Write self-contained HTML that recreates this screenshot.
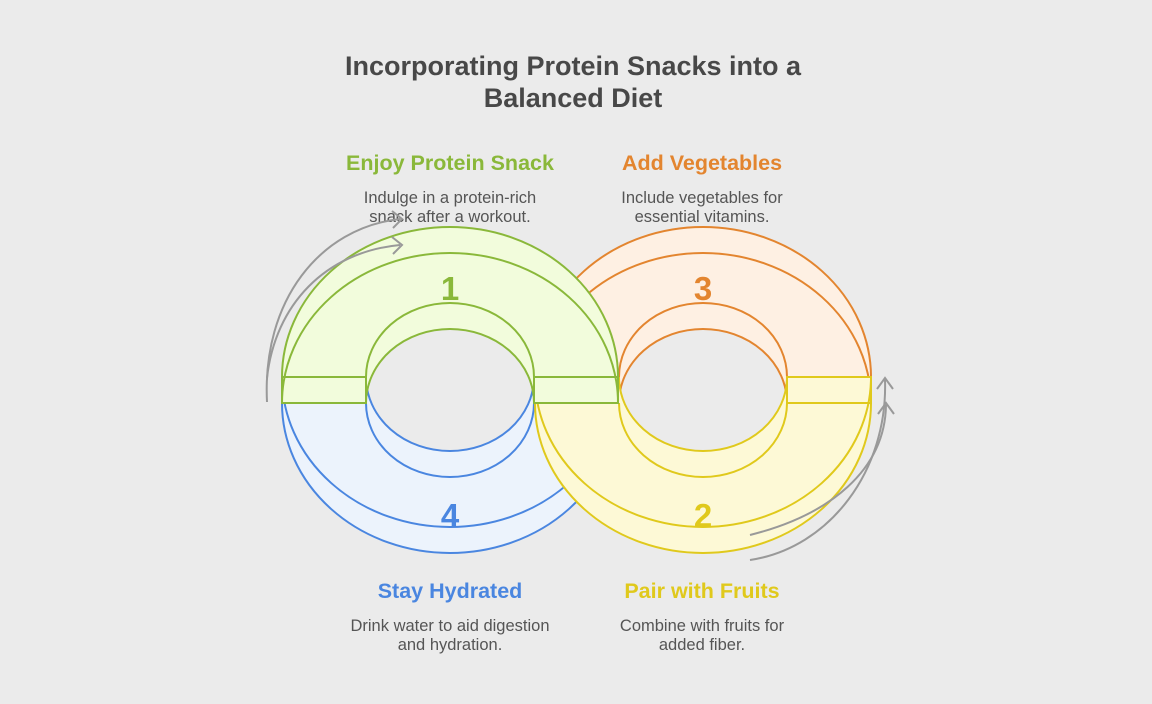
<!DOCTYPE html>
<html><head><meta charset="utf-8"><style>
html,body{margin:0;padding:0;background:#ebebeb;}
svg{display:block;font-family:"Liberation Sans",sans-serif;}
</style></head><body>
<svg width="1152" height="704" viewBox="0 0 1152 704" xmlns="http://www.w3.org/2000/svg">
<rect width="1152" height="704" fill="#ebebeb"/>
<g font-weight="bold" fill="#484848" font-size="27" text-anchor="middle">
<text x="573" y="75">Incorporating Protein Snacks into a</text>
<text x="573" y="107">Balanced Diet</text>
</g>
<g font-weight="bold" font-size="21.5" text-anchor="middle">
<text x="450" y="170" fill="#8ab83a">Enjoy Protein Snack</text>
<text x="702" y="170" fill="#e3852f">Add Vegetables</text>
<text x="450" y="598" fill="#4a86e0">Stay Hydrated</text>
<text x="702" y="598" fill="#e0c91c">Pair with Fruits</text>
</g>
<g font-size="16.5" fill="#555" text-anchor="middle">
<text x="450" y="203">Indulge in a protein-rich</text>
<text x="450" y="222">snack after a workout.</text>
<text x="702" y="203">Include vegetables for</text>
<text x="702" y="222">essential vitamins.</text>
<text x="450" y="631">Drink water to aid digestion</text>
<text x="450" y="650">and hydration.</text>
<text x="702" y="631">Combine with fruits for</text>
<text x="702" y="650">added fiber.</text>
</g>
<g fill="none" stroke-width="2">
<path d="M535,377 A168,150 0 0 1 871,377 L871,403 L787,403 A84,74 0 0 0 619,403 L535,403 Z" fill="#fef0e3" stroke="none"/>
<g stroke="#e3852f">
<path d="M535,377 A168,150 0 0 1 871,377"/><path d="M535,403 A168,150 0 0 1 871,403"/>
<path d="M619,377 A84,74 0 0 1 787,377"/><path d="M619,403 A84,74 0 0 1 787,403"/>
</g>
<path d="M282,403 A168,150 0 0 0 618,403 L618,377 L534,377 A84,74 0 0 1 366,377 L282,377 Z" fill="#ecf3fc" stroke="none"/>
<g stroke="#4a86e0">
<path d="M282,377 A168,150 0 0 0 618,377"/><path d="M282,403 A168,150 0 0 0 618,403"/>
<path d="M366,377 A84,74 0 0 0 534,377"/><path d="M366,403 A84,74 0 0 0 534,403"/>
</g>
<path d="M535,403 A168,150 0 0 0 871,403 L871,377 L787,377 A84,74 0 0 1 619,377 L535,377 Z" fill="#fdf9d6" stroke="none"/>
<g stroke="#e0c91c">
<path d="M535,377 A168,150 0 0 0 871,377"/><path d="M535,403 A168,150 0 0 0 871,403"/>
<path d="M619,377 A84,74 0 0 0 787,377"/><path d="M619,403 A84,74 0 0 0 787,403"/>
<path d="M787,377 h84 v26 h-84 z"/>
</g>
<path d="M282,377 A168,150 0 0 1 618,377 L618,403 L534,403 A84,74 0 0 0 366,403 L282,403 Z" fill="#f2fcdc" stroke="none"/>
<g stroke="#8ab83a">
<path d="M282,377 A168,150 0 0 1 618,377"/><path d="M282,403 A168,150 0 0 1 618,403"/>
<path d="M366,377 A84,74 0 0 1 534,377"/><path d="M366,403 A84,74 0 0 1 534,403"/>
<path d="M282,377 h84 v26 h-84 z"/><path d="M534,377 h84 v26 h-84 z"/>
</g>
<g stroke="#999" stroke-width="2">
<path d="M267,402 C262,300 320,228 400,219"/>
<path d="M392,211 L402,219 L393,228"/>
<path d="M267,378 C275,305 325,252 400,245"/>
<path d="M392,237 L402,245 L393,254"/>
<path d="M750,560 C830,548 888,470 885,380"/>
<path d="M877,389 L885,378 L893,389"/>
<path d="M750,535 C830,515 885,470 886,405"/>
<path d="M878,414 L886,403 L894,414"/>
</g>
</g>
<g font-weight="bold" font-size="33" text-anchor="middle">
<text x="450" y="300" fill="#8ab83a">1</text>
<text x="703" y="300" fill="#e3852f">3</text>
<text x="450" y="527" fill="#4a86e0">4</text>
<text x="703" y="527" fill="#e0c91c">2</text>
</g>
</svg>
</body></html>
